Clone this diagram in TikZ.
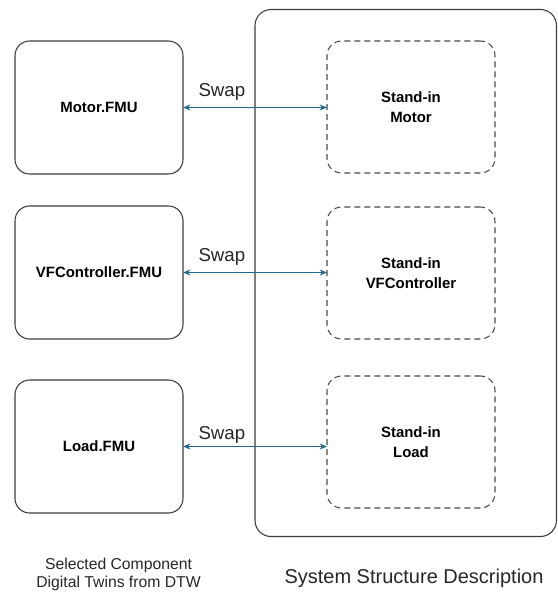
\documentclass[tikz,border=0pt]{standalone}
\usepackage{fontspec}
\setmainfont{Liberation Sans}
\usetikzlibrary{arrows.meta}

\definecolor{boxline}{HTML}{3C3C3C}
\definecolor{dashline}{HTML}{4A4A4A}
\definecolor{swapblue}{HTML}{1F6A8C}

\tikzset{
  fmubox/.style={draw=boxline, line width=0.8pt, rounded corners=11pt,
    minimum width=126pt, minimum height=99.75pt, inner sep=0pt, outer sep=0pt,
    font=\fontsize{11.2}{13}\selectfont\bfseries, align=center},
  standin/.style={draw=dashline, line width=0.8pt, rounded corners=11pt,
    dash pattern=on 4.5pt off 3pt,
    minimum width=126pt, minimum height=99pt, inner sep=0pt, outer sep=0pt,
    font=\fontsize{11.2}{15.5}\selectfont\bfseries, align=center},
  sysbox/.style={draw=boxline, line width=0.8pt, rounded corners=12pt,
    minimum width=226.1pt, minimum height=395.25pt, inner sep=0pt, outer sep=0pt},
  swaparrow/.style={draw=swapblue, line width=1.3pt,
    {Stealth[length=5.5pt,width=4.5pt]}-{Stealth[length=5.5pt,width=4.5pt]}},
  swaplabel/.style={font=\fontsize{14}{16}\selectfont, inner sep=0pt, text=black!85},
  caption/.style={align=center, inner sep=0pt, text=black!85}
}

\begin{document}
\begin{tikzpicture}[x=0.75pt, y=-0.75pt]
  \useasboundingbox (0,0) rectangle (558,594);

  % system structure frame
  \node[sysbox] (sys) at (405.75,273) {};

  % component digital twins
  \node[fmubox] (motor) at (99,107.5) {Motor.FMU};
  \node[fmubox] (vfc)   at (99,272.5) {VFController.FMU};
  \node[fmubox] (load)  at (99,446.5) {Load.FMU};

  % stand-in components
  \node[standin] (smotor) at (411,107)   {Stand-in\\Motor};
  \node[standin] (svfc)   at (411,273)   {Stand-in\\VFController};
  \node[standin] (sload)  at (411,442)   {Stand-in\\Load};

  % swap connectors
  \draw[swaparrow] (motor.east) -- (motor.east -| smotor.west)
    node[swaplabel, pos=0.27, yshift=11.5pt] {Swap};
  \draw[swaparrow] (vfc.east) -- (vfc.east -| svfc.west)
    node[swaplabel, pos=0.27, yshift=12pt] {Swap};
  \draw[swaparrow] (load.east) -- (load.east -| sload.west)
    node[swaplabel, pos=0.27, yshift=9pt] {Swap};

  % captions
  \node[caption, font=\fontsize{11.8}{13.5}\selectfont] (capl) at (118.5,574)
    {Selected Component\\Digital Twins from DTW};
  \node[caption, font=\fontsize{15}{17}\selectfont] (capr) at (414,578)
    {System Structure Description};
\end{tikzpicture}
\end{document}
